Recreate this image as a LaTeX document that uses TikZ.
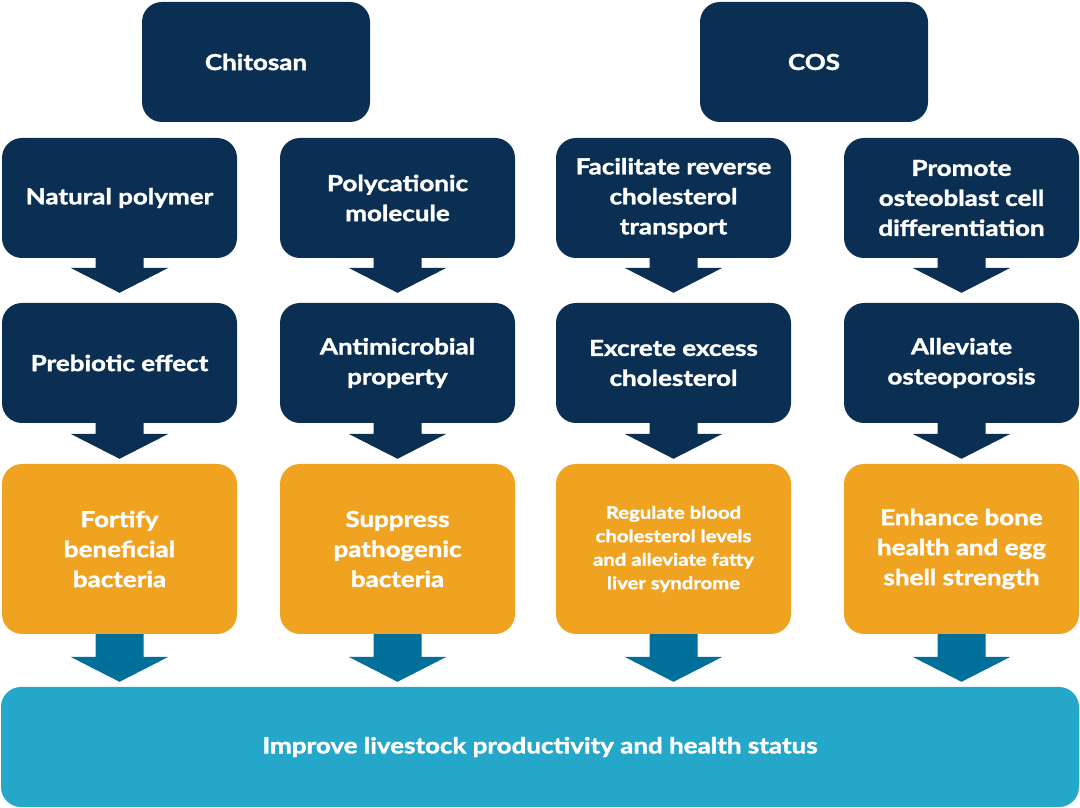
\documentclass[tikz,border=0pt]{standalone}
\usepackage{fontspec}
\setmainfont{Lato}[BoldFeatures={FakeBold=1.6, FakeStretch=1.18}]
\usetikzlibrary{calc}
\definecolor{navy}{HTML}{0B2F52}
\definecolor{orng}{HTML}{F0A221}
\definecolor{teal}{HTML}{00709A}
\definecolor{sky}{HTML}{25A7CA}
\tikzset{
  box/.style={rectangle, rounded corners=20pt, fill=navy, text=white, align=center,
    minimum width=235pt, minimum height=120pt, inner sep=0pt,
    font=\fontsize{22}{30}\selectfont\bfseries},
  topbox/.style={box, minimum width=228pt},
  obox/.style={box, fill=orng, minimum height=170pt},
  bar/.style={box, fill=sky, minimum width=1078pt},
}
% #1 from node, #2 to node, #3 colour, #4 gap above target
\newcommand\fatarrow[4]{%
  \fill[#3] ([xshift=-24pt]#1.south) -- ($([xshift=-24pt]#1.south |- #2.north)+(0,#4+25pt)$)
    -- ($([xshift=-49pt]#1.south |- #2.north)+(0,#4+25pt)$)
    -- ($(#1.south |- #2.north)+(0,#4)$)
    -- ($([xshift=49pt]#1.south |- #2.north)+(0,#4+25pt)$)
    -- ($([xshift=24pt]#1.south |- #2.north)+(0,#4+25pt)$)
    -- ([xshift=24pt]#1.south) -- cycle;}
\begin{document}
\begin{tikzpicture}[x=1pt,y=1pt]
\useasboundingbox (0,0) rectangle (1080,808);
\node[topbox] (chi) at (256,746) {Chitosan};
\node[topbox] (cos) at (814,746) {COS};

\node[box] (a1) at (119.5,610) {Natural polymer};
\node[box] (a2) at (397.5,610) {Polycationic\\molecule};
\node[box] (a3) at (673.5,610) {Facilitate reverse\\cholesterol\\transport};
\node[box] (a4) at (961.5,610) {Promote\\osteoblast cell\\differentiation};

\node[box] (b1) at (119.5,445) {Prebiotic effect};
\node[box] (b2) at (397.5,445) {Antimicrobial\\property};
\node[box] (b3) at (673.5,445) {Excrete excess\\cholesterol};
\node[box] (b4) at (961.5,445) {Alleviate\\osteoporosis};

\node[obox] (c1) at (119.5,259) {Fortify\\beneficial\\bacteria};
\node[obox] (c2) at (397.5,259) {Suppress\\pathogenic\\bacteria};
\node[obox, font=\fontsize{17.2}{23.5}\selectfont\bfseries] (c3) at (673.5,259) {Regulate blood\\cholesterol levels\\and alleviate fatty\\liver syndrome};
\node[obox] (c4) at (961.5,259) {Enhance bone\\health and egg\\shell strength};

\node[bar] (d) at (540,61) {Improve livestock productivity and health status};

\foreach \i in {1,2,3,4}{
  \fatarrow{a\i}{b\i}{navy}{10pt}
  \fatarrow{b\i}{c\i}{navy}{5pt}
  \fatarrow{c\i}{d}{teal}{5pt}
}
\end{tikzpicture}
\end{document}
